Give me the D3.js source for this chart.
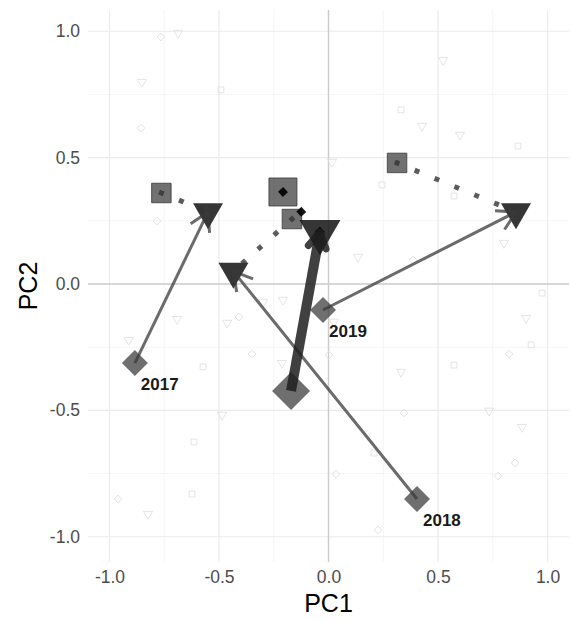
<!DOCTYPE html>
<html>
<head>
<meta charset="utf-8">
<script src="https://cdn.jsdelivr.net/npm/d3@7"></script>
<style>
  html, body { margin: 0; padding: 0; background: #ffffff; }
  svg { display: block; font-family: "Liberation Sans", Arial, sans-serif; }
</style>
</head>
<body>
<svg id="chart" width="571" height="621"></svg>
<script>
// ---- data ----
const seriesLabels = ["2017", "2018", "2019", ""];
const seriesType   = ["year", "year", "year", "overall"];
const startPC1 = [-0.884, 0.404, -0.025, -0.171];
const startPC2 = [-0.313, -0.851, -0.103, -0.423];
const endPC1   = [-0.550, -0.434, 0.856, -0.039];
const endPC2   = [0.285, 0.050, 0.285, 0.206];
const midPC1   = [-0.763, -0.167, 0.313, -0.208];
const midPC2   = [0.360, 0.257, 0.479, 0.364];

const bgTriPC1 = [-0.687, -0.852, 0.523, 0.427, 0.600, 0.016, 0.801, 0.135, -0.299, -0.208, -0.692, -0.463, -0.912, -0.212, -0.486, -0.824, 0.902, 0.025, 0.331, 0.733, 0.884];
const bgTriPC2 = [0.993, 0.799, 0.886, 0.625, 0.590, 0.483, 0.162, 0.107, -0.071, -0.063, -0.139, -0.154, -0.222, -0.313, -0.518, -0.910, -0.135, -0.150, -0.348, -0.502, -0.566];
const bgDiaPC1 = [-0.765, -0.856, -0.783, -0.409, -0.349, -0.961, 0.002, 0.824, 0.345, 0.852, 0.034, 0.774, 0.226, 0.386];
const bgDiaPC2 = [0.977, 0.617, 0.249, -0.131, -0.277, -0.851, -0.281, -0.277, -0.510, -0.708, -0.752, -0.760, -0.973, 0.095];
const bgSqPC1  = [-0.491, 0.331, 0.865, 0.244, 0.573, 0.975, -0.573, -0.614, -0.623, 0.925, 0.573, 0.208];
const bgSqPC2  = [0.768, 0.689, 0.546, 0.392, 0.348, -0.036, -0.328, -0.625, -0.831, -0.241, -0.321, -0.669];

const tickValues  = [-1, -0.5, 0, 0.5, 1];
const minorValues = [-0.75, -0.25, 0.25, 0.75];
const xTitle = "PC1", yTitle = "PC2";

// ---- layout ----
const svg = d3.select("#chart");
const panel = {left: 88, right: 569, top: 10, bottom: 562};
const x = d3.scaleLinear().domain([-1.098, 1.098]).range([panel.left, panel.right]);
const y = d3.scaleLinear().domain([-1.10, 1.084]).range([panel.bottom, panel.top]);
const fmt = d => d.toFixed(1);

const grid = svg.append("g");
// minor grid
grid.selectAll(".mx").data(minorValues).enter().append("line")
  .attr("x1", d => x(d)).attr("x2", d => x(d)).attr("y1", panel.top).attr("y2", panel.bottom)
  .attr("stroke", "#f2f2f2").attr("stroke-width", 0.8);
grid.selectAll(".my").data(minorValues).enter().append("line")
  .attr("y1", d => y(d)).attr("y2", d => y(d)).attr("x1", panel.left).attr("x2", panel.right)
  .attr("stroke", "#f2f2f2").attr("stroke-width", 0.8);
// major grid
grid.selectAll(".Mx").data(tickValues).enter().append("line")
  .attr("x1", d => x(d)).attr("x2", d => x(d)).attr("y1", panel.top).attr("y2", panel.bottom)
  .attr("stroke", "#ebebeb").attr("stroke-width", 1.2);
grid.selectAll(".My").data(tickValues).enter().append("line")
  .attr("y1", d => y(d)).attr("y2", d => y(d)).attr("x1", panel.left).attr("x2", panel.right)
  .attr("stroke", "#ebebeb").attr("stroke-width", 1.2);
// zero lines
grid.append("line").attr("x1", x(0)).attr("x2", x(0)).attr("y1", panel.top).attr("y2", panel.bottom)
  .attr("stroke", "#cccccc").attr("stroke-width", 1.4);
grid.append("line").attr("y1", y(0)).attr("y2", y(0)).attr("x1", panel.left).attr("x2", panel.right)
  .attr("stroke", "#cccccc").attr("stroke-width", 1.4);

// axes
const xAxis = svg.append("g").attr("transform", `translate(0,${panel.bottom})`)
  .call(d3.axisBottom(x).tickValues(tickValues).tickFormat(fmt).tickSize(0).tickPadding(9));
const yAxis = svg.append("g").attr("transform", `translate(${panel.left},0)`)
  .call(d3.axisLeft(y).tickValues(tickValues).tickFormat(fmt).tickSize(0).tickPadding(8));
[xAxis, yAxis].forEach(a => {
  a.select(".domain").remove();
  a.selectAll("text").attr("fill", "#4d4d4d").style("font-size", "17.5px")
    .style("font-family", "'Liberation Sans', Arial, sans-serif");
});

svg.append("text").attr("x", (panel.left + panel.right) / 2).attr("y", 612)
  .attr("text-anchor", "middle").attr("fill", "#000").style("font-size", "25px").text(xTitle);
svg.append("text").attr("transform", `translate(37,${(panel.top + panel.bottom) / 2}) rotate(-90)`)
  .attr("text-anchor", "middle").attr("fill", "#000").style("font-size", "25px").text(yTitle);

// background hollow points
const bg = svg.append("g").attr("fill", "none").attr("stroke", "#e1e1e1").attr("stroke-width", 0.9);
const triSym = d3.symbol().type(d3.symbolTriangle);
const sqSym  = d3.symbol().type(d3.symbolSquare);
bg.selectAll(".bt").data(d3.range(bgTriPC1.length)).enter().append("path")
  .attr("d", triSym.size(36)())
  .attr("transform", i => `translate(${x(bgTriPC1[i])},${y(bgTriPC2[i])}) rotate(180)`);
bg.selectAll(".bd").data(d3.range(bgDiaPC1.length)).enter().append("path")
  .attr("d", sqSym.size(30)())
  .attr("transform", i => `translate(${x(bgDiaPC1[i])},${y(bgDiaPC2[i])}) rotate(45)`);
bg.selectAll(".bs").data(d3.range(bgSqPC1.length)).enter().append("path")
  .attr("d", sqSym.size(34)())
  .attr("transform", i => `translate(${x(bgSqPC1[i])},${y(bgSqPC2[i])})`);

// main series
const series = d3.range(seriesLabels.length).map(i => ({
  label: seriesLabels[i], type: seriesType[i],
  s: [startPC1[i], startPC2[i]], e: [endPC1[i], endPC2[i]], m: [midPC1[i], midPC2[i]]
}));
const big = d => d.type === "overall";

const pts = svg.append("g");
series.forEach(d => {
  pts.append("path")
    .attr("d", d3.symbol().type(d3.symbolSquare).size(big(d) ? 784 : 380)())
    .attr("transform", `translate(${x(d.m[0])},${y(d.m[1])})`)
    .attr("fill", "#3a3a3a").attr("fill-opacity", 0.72)
    .attr("stroke", "#3a3a3a").attr("stroke-opacity", 0.8).attr("stroke-width", 1);
  pts.append("path")
    .attr("d", d3.symbol().type(d3.symbolSquare).size(big(d) ? 722 : 338)())
    .attr("transform", `translate(${x(d.s[0])},${y(d.s[1])}) rotate(45)`)
    .attr("fill", "#3a3a3a").attr("fill-opacity", 0.73);
  pts.append("path")
    .attr("d", d3.symbol().type(d3.symbolTriangle).size(big(d) ? 728 : 390)())
    .attr("transform", `translate(${x(d.e[0])},${y(d.e[1])}) rotate(180)`)
    .attr("fill", "#1a1a1a").attr("fill-opacity", 0.88);
});

// dotted lines from square to triangle
const lines = svg.append("g");
series.forEach(d => {
  lines.append("line")
    .attr("x1", x(d.m[0])).attr("y1", y(d.m[1])).attr("x2", x(d.e[0])).attr("y2", y(d.e[1]))
    .attr("stroke", big(d) ? "#000" : "#333").attr("stroke-opacity", big(d) ? 0.9 : 0.8)
    .attr("stroke-width", big(d) ? 7 : 5)
    .attr("stroke-linecap", "square")
    .attr("stroke-dasharray", big(d) ? "0.01 27" : "0.01 21.5");
});

// arrows from diamond to triangle
series.forEach(d => {
  const x1 = x(d.s[0]), y1 = y(d.s[1]), x2 = x(d.e[0]), y2 = y(d.e[1]);
  const ang = Math.atan2(y2 - y1, x2 - x1);
  const L = big(d) ? 18 : 21, a = Math.PI / 6;
  const b1 = [x2 - L * Math.cos(ang - a), y2 - L * Math.sin(ang - a)];
  const b2 = [x2 - L * Math.cos(ang + a), y2 - L * Math.sin(ang + a)];
  const col = big(d) ? "#1f1f1f" : "#3a3a3a", op = big(d) ? 0.85 : 0.75, w = big(d) ? 10 : 3;
  const g = lines.append("g").attr("stroke", col).attr("stroke-opacity", op).attr("fill", "none");
  g.append("line").attr("x1", x1).attr("y1", y1).attr("x2", x2).attr("y2", y2)
    .attr("stroke-width", w).attr("stroke-linecap", "butt");
  g.append("path").attr("d", `M${b1[0]},${b1[1]}L${x2},${y2}L${b2[0]},${b2[1]}`)
    .attr("stroke-width", big(d) ? 7 : 3).attr("stroke-linecap", big(d) ? "round" : "butt")
    .attr("stroke-linejoin", "round");
});

// year labels
svg.append("g").selectAll("text").data(series.filter(d => d.label)).enter().append("text")
  .attr("x", d => x(d.s[0]) + 6).attr("y", d => y(d.s[1]) + 27)
  .attr("fill", "#1a1a1a").style("font-size", "17px").style("font-weight", "bold")
  .text(d => d.label);
</script>
</body>
</html>
